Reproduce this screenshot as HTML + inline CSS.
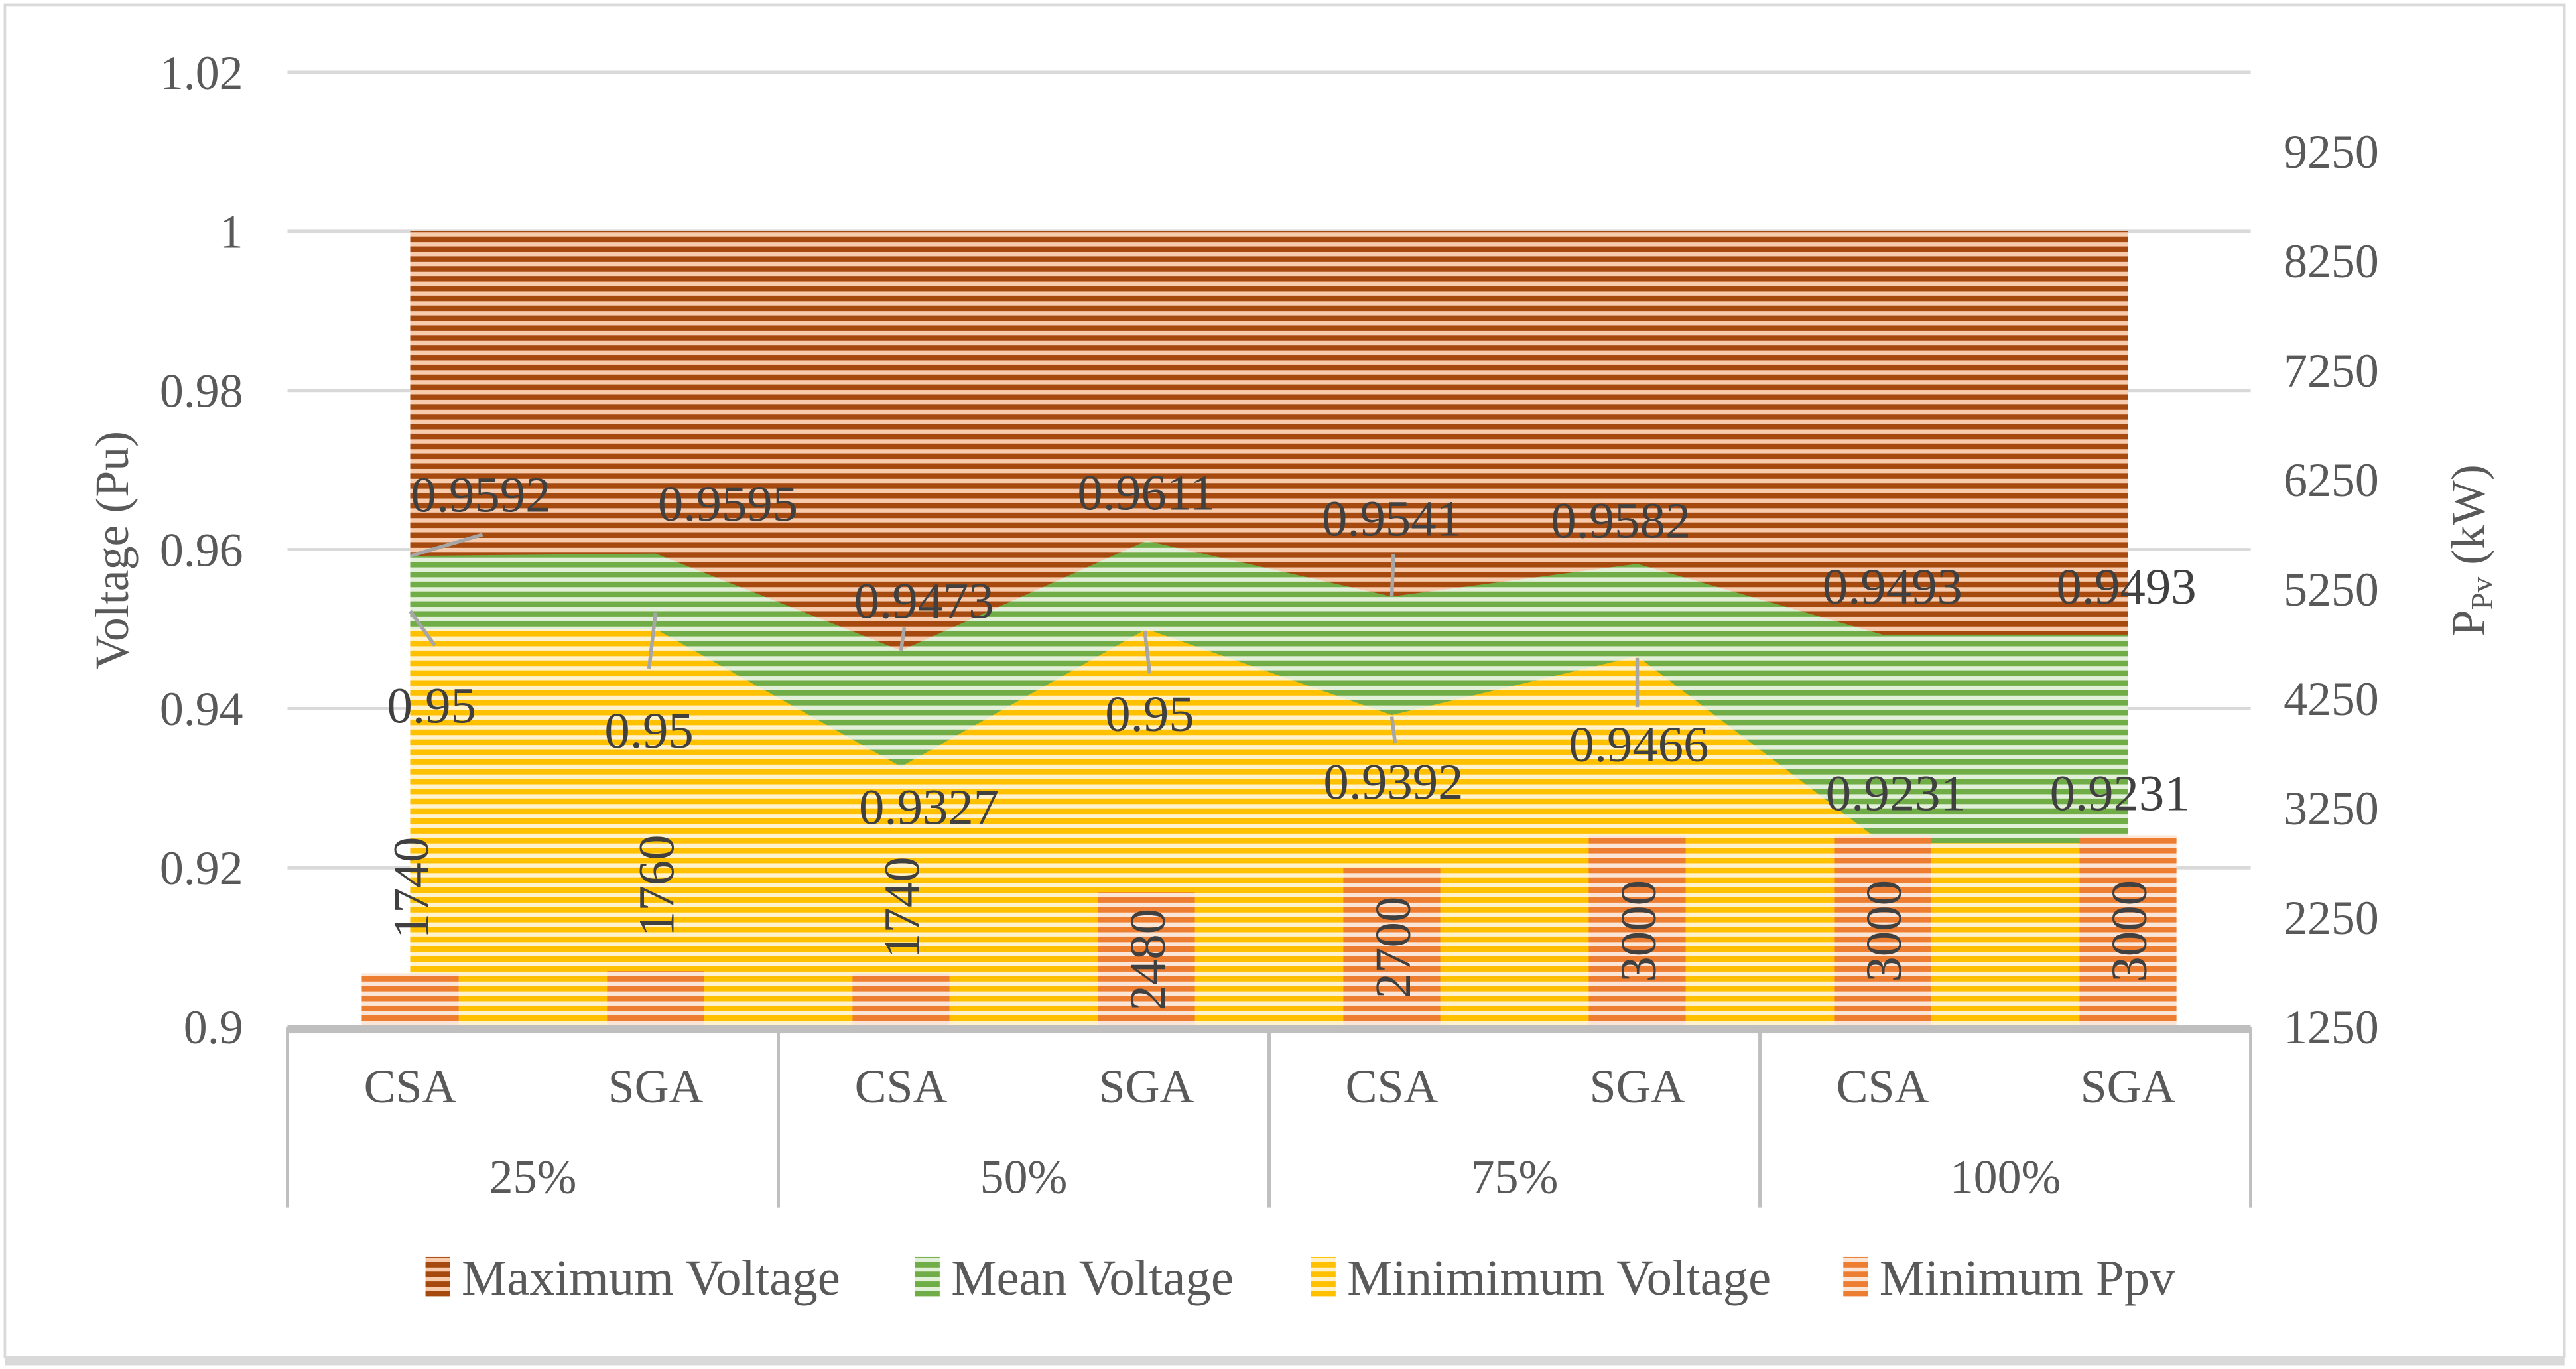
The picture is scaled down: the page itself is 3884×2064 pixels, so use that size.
<!DOCTYPE html>
<html><head><meta charset="utf-8"><style>
html,body{margin:0;padding:0;background:#fff;}
svg{display:block;font-family:"Liberation Serif",serif;}
</style></head><body>
<svg id="chart" width="3884" height="2064" viewBox="0 0 1568 833.25" preserveAspectRatio="none" xmlns="http://www.w3.org/2000/svg">
<defs>
<pattern id="pMax" width="8" height="6" patternUnits="userSpaceOnUse"><rect width="8" height="6" fill="#F8CBAD"/><rect width="8" height="3.4" fill="#A5490F"/></pattern>
<pattern id="pMean" width="8" height="6" patternUnits="userSpaceOnUse"><rect width="8" height="6" fill="#E2F0D9"/><rect width="8" height="3.4" fill="#70AD47"/></pattern>
<pattern id="pMin" width="8" height="6" patternUnits="userSpaceOnUse"><rect width="8" height="6" fill="#FFF2CC"/><rect width="8" height="3.4" fill="#FFC000"/></pattern>
<pattern id="pPpv" width="8" height="6" patternUnits="userSpaceOnUse"><rect width="8" height="6" fill="#FBE5D6"/><rect width="8" height="3.4" fill="#ED7D31"/></pattern>
</defs>
<rect x="3" y="3" width="1558" height="823" fill="#fff" stroke="#d9d9d9" stroke-width="1.5"/>
<rect x="3" y="826" width="1558" height="5" fill="#d9d9d9"/>
<g id="grid"></g>
<g id="areas"></g>
<g id="bars"></g>
<g id="leaders" stroke="#a6a6a6" stroke-width="2.2"></g>
<g id="labels" fill="#404040" font-size="31"></g>
<g id="axes" fill="#595959" font-size="29"></g>
<text transform="translate(78,335) rotate(-90)" text-anchor="middle" font-size="29" fill="#595959">Voltage (Pu)</text>
<text transform="translate(1512,335) rotate(-90)" text-anchor="middle" font-size="29" fill="#595959">P<tspan font-size="19" dy="5">Pv</tspan><tspan dy="-5"> (kW)</tspan></text>
<g id="legend" font-size="31" fill="#595959"></g>
</svg>
<script>
const categories = ["CSA","SGA","CSA","SGA","CSA","SGA","CSA","SGA"];
const groups = ["25%","50%","75%","100%"];
const maxVoltage = [1,1,1,1,1,1,1,1];
const meanVoltage = [0.9592,0.9595,0.9473,0.9611,0.9541,0.9582,0.9493,0.9493];
const minVoltage = [0.95,0.95,0.9327,0.95,0.9392,0.9466,0.9231,0.9231];
const minPpv = [1740,1760,1740,2480,2700,3000,3000,3000];
const leftTicks = [0.9,0.92,0.94,0.96,0.98,1,1.02];
const leftTickLabels = ["0.9","0.92","0.94","0.96","0.98","1","1.02"];
const rightTicks = [1250,2250,3250,4250,5250,6250,7250,8250,9250];
const meanLabelOffsets = [[43,-37],[44,-30],[14,-30],[0,-29],[0,-47],[-10,-26],[6,-29],[-1,-29]];
const minLabelOffsets = [[13,47],[-4,62],[17,25],[2,52],[1,41],[1,54],[8,-30],[-5,-30]];

const NS="http://www.w3.org/2000/svg";
const L=175,R=1370,T=44,B=625;
const n=categories.length, step=(R-L)/n;
const x=i=>L+step*(i+0.5);
const y=v=>B-(v-0.9)/(1.02-0.9)*(B-T);
const yR=p=>B-(p-1250)/1000*66.6;
function mk(tag,attrs,parent){const e=document.createElementNS(NS,tag);for(const k in attrs)e.setAttribute(k,attrs[k]);parent.appendChild(e);return e;}
const G=id=>document.getElementById(id);

leftTicks.forEach((t,i)=>{
  const g=mk('line',{x1:L,x2:R,y1:y(t),y2:y(t),stroke:'#d9d9d9','stroke-width':2},G('grid'));
  
  
  const tx=mk('text',{x:148,y:y(t)+10,'text-anchor':'end'},G('axes'));tx.textContent=leftTickLabels[i];
  
  
});
rightTicks.forEach(t=>{
  const tx=mk('text',{x:1390,y:yR(t)+10},G('axes'));tx.textContent=t;
  
  
});
function area(top,fill){
  let d='M'+x(0)+','+y(top[0]);
  for(let i=1;i<n;i++)d+=' L'+x(i)+','+y(top[i]);
  d+=' L'+x(n-1)+','+B+' L'+x(0)+','+B;
  return mk('path',{d:d+'Z',fill:fill},G('areas'));
}
const a1=area(maxVoltage,'url(#pMax)');


const a2=area(meanVoltage,'url(#pMean)');


const a3=area(minVoltage,'url(#pMin)');



const bw=59;
minPpv.forEach((v,i)=>{
  const r=mk('rect',{x:x(i)-bw/2,y:yR(v),width:bw,height:B-yR(v),fill:'url(#pPpv)'},G('bars'));
  
  
  const small=(B-yR(v))<60;
  const cy=small?(yR(v)-52+(i==2?12:0)):((yR(v)+B)/2);
  const t=mk('text',{transform:'translate('+(x(i)+11)+','+cy+') rotate(-90)','text-anchor':'middle',fill:'#404040','font-size':31},G('labels'));
  t.textContent=v;
  
  
});

meanVoltage.forEach((v,i)=>{
  const o=meanLabelOffsets[i];
  const t=mk('text',{x:x(i)+o[0],y:y(v)+o[1]+10,'text-anchor':'middle'},G('labels'));
  t.textContent=v.toString();
  
  
});
minVoltage.forEach((v,i)=>{
  const o=minLabelOffsets[i];
  const t=mk('text',{x:x(i)+o[0],y:y(v)+o[1]+10,'text-anchor':'middle'},G('labels'));
  t.textContent=v.toString();
  
  
});
// leader lines: [index, series, x1off, y1off, dx, dy]
[[0,'mean',0,0,44,-13],[2,'mean',0,0,2,-14],[4,'mean',0,0,1,-26],
 [0,'min',0,-11,15,21],[1,'min',0,-10,-4,34],[3,'min',-1,1,3,26],[4,'min',0,1,2,16],[5,'min',0,1,0,30]].forEach(a=>{
  const v=a[1]=='mean'?meanVoltage[a[0]]:minVoltage[a[0]];
  const ln=mk('line',{x1:x(a[0])+a[2],y1:y(v)+a[3],x2:x(a[0])+a[2]+a[4],y2:y(v)+a[3]+a[5]},G('leaders'));
  
  
});

const ax=G('axes');
const xl=mk('rect',{x:L,y:B-1,width:R-L,height:5,fill:'#bfbfbf'},ax);


for(let k=0;k<=groups.length;k++){
  const lx=L+k*(R-L)/groups.length;
  const l=mk('line',{x1:lx,x2:lx,y1:B,y2:735,stroke:'#bfbfbf','stroke-width':2},ax);
  
  
}
categories.forEach((c,i)=>{
  const t=mk('text',{x:x(i),y:671,'text-anchor':'middle'},ax);t.textContent=c;
  
  
});
groups.forEach((g,k)=>{
  const t=mk('text',{x:L+(k+0.5)*(R-L)/groups.length,y:726,'text-anchor':'middle'},ax);t.textContent=g;
  
  
});
const leg=[["Maximum Voltage","url(#pMax)",259],["Mean Voltage","url(#pMean)",557],["Minimimum Voltage","url(#pMin)",798],["Minimum Ppv","url(#pPpv)",1122]];
leg.forEach(e=>{
  const g=mk('g',{},G('legend'));
  
  
  mk('rect',{x:e[2],y:765,width:15,height:24,fill:e[1]},g);
  const t=mk('text',{x:e[2]+22,y:788},g);t.textContent=e[0];
});
</script>
</body></html>
